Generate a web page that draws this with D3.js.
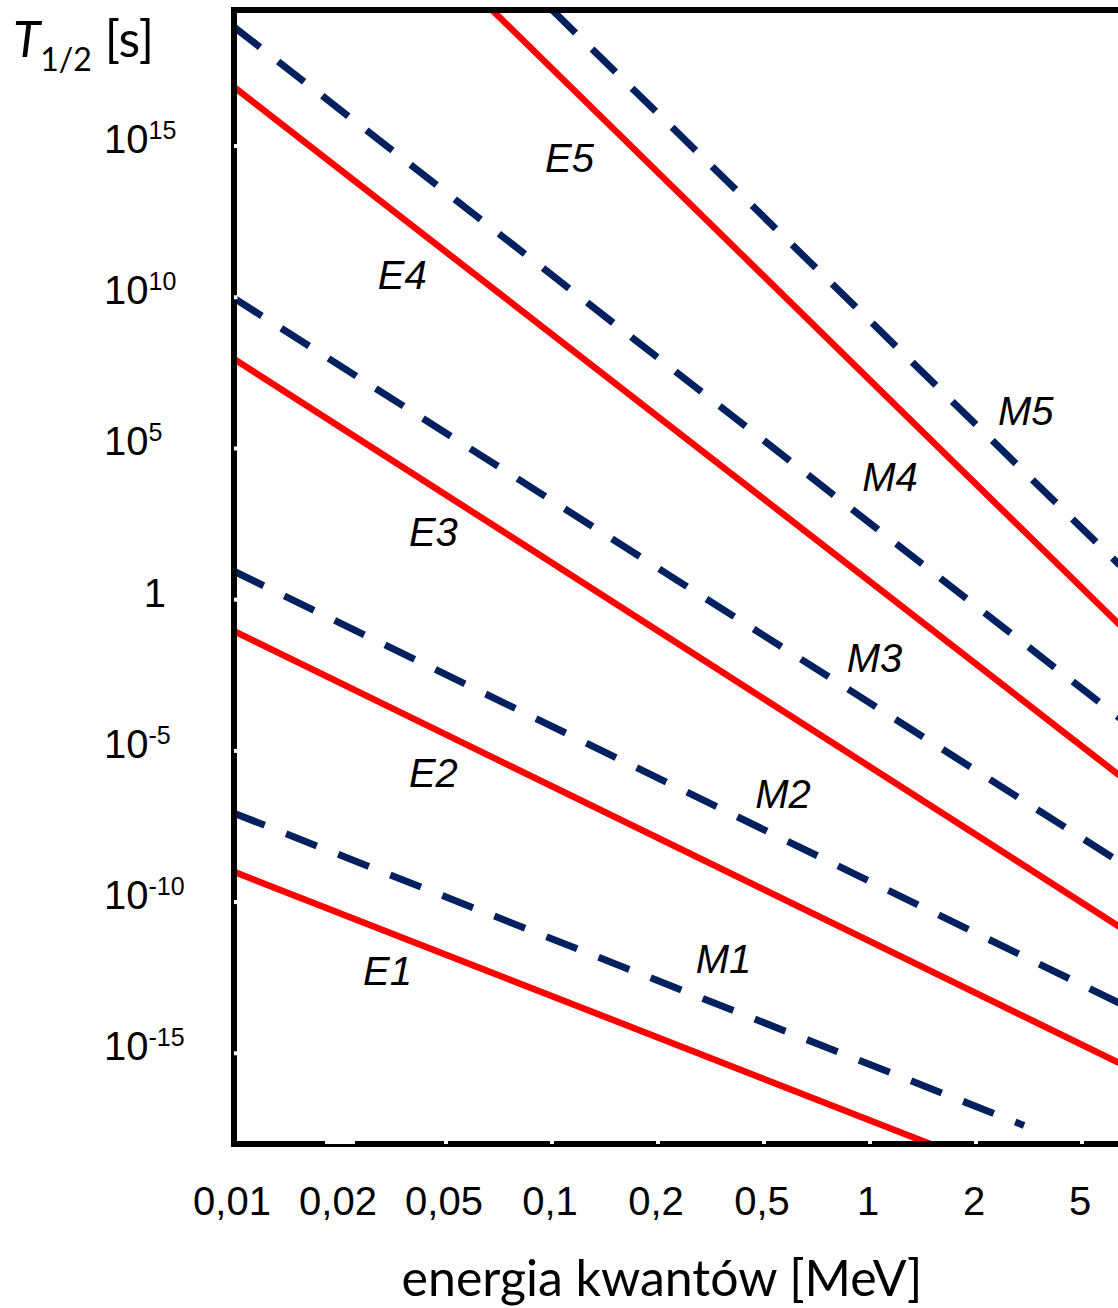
<!DOCTYPE html>
<html lang="pl">
<head>
<meta charset="utf-8" />
<title>Czas połowicznego zaniku a energia kwantów</title>
<script src="https://cdn.jsdelivr.net/npm/d3@7"></script>
<style>
  body { margin: 0; background: #fff; }
  .tick-lbl { font-family: "Liberation Sans", Arial, sans-serif; font-size: 40px; fill: #000; }
  .line-lbl { font-family: "Liberation Sans", Arial, sans-serif; font-size: 40px; font-style: italic; fill: #000; }
  .title { font-family: Lato, "Open Sans", sans-serif; fill: #000; }
</style>
</head>
<body>
<div id="chart"></div>
<script>

// x ticks (equal spacing per tick, as in the original)
var energyTicks = [0.01, 0.02, 0.05, 0.1, 0.2, 0.5, 1, 2, 5];
var energyLabels = ["0,01", "0,02", "0,05", "0,1", "0,2", "0,5", "1", "2", "5"];
var yExponents = [15, 10, 5, 0, -5, -10, -15];

// each line: [energy MeV, T1/2 s] at start and end
var E1 = [[0.01, 1.0e-9], [1.57, 1.0e-18]];
var M1 = [[0.01, 8.7e-8], [3.36, 4.1e-18]];
var E2 = [[0.01, 9.1e-2], [6.07, 4.7e-16]];
var M2 = [[0.01, 8.7], [6.07, 4.5e-14]];
var E3 = [[0.01, 9.1e7], [6.07, 1.5e-11]];
var M3 = [[0.01, 9.3e9], [6.07, 2.1e-9]];
var E4 = [[0.01, 8.9e16], [6.07, 1.5e-6]];
var M4 = [[0.01, 8.7e18], [6.07, 1.2e-4]];
var E5 = [[0.0717, 3.2e19], [6.07, 0.145]];
var M5 = [[0.1, 3.2e19], [6.07, 13.8]];

var lineNames = ["E1", "M1", "E2", "M2", "E3", "M3", "E4", "M4", "E5", "M5"];
var lineData = [E1, M1, E2, M2, E3, M3, E4, M4, E5, M5];

// label anchor points (energy, T)
var labelPos = [[0.0265, 1.8e-13], [0.307, 4.4e-13], [0.0395, 6.3e-7], [0.475, 1.3e-7],
                [0.0395, 59], [0.89, 4.0e-3], [0.0307, 1.9e10], [0.963, 3.9e3],
                [0.0967, 1.4e14], [2.62, 5.9e5]];

var W = 1118, H = 1308;
var margin = {left: 234, right: 1122, top: 10, bottom: 1144};
var step = 106;

var svg = d3.select("#chart").append("svg")
    .attr("width", W)
    .attr("height", H);

// polylinear scale: ticks equally spaced
var x = d3.scaleLinear()
    .domain(energyTicks)
    .range(energyTicks.map(function(d, i) { return margin.left + i * step; }));

var y = d3.scaleLog()
    .domain([1e-18, 3.16e19])
    .range([margin.bottom, margin.top]);

svg.append("clipPath").attr("id", "plot")
  .append("rect")
    .attr("x", margin.left).attr("y", margin.top)
    .attr("width", margin.right - margin.left).attr("height", margin.bottom - margin.top);

var line = d3.line()
    .x(function(d) { return x(d[0]); })
    .y(function(d) { return y(d[1]); });

svg.append("g")
    .attr("clip-path", "url(#plot)")
  .selectAll("path")
  .data(lineData)
  .enter()
  .append("path")
    .attr("d", line)
    .attr("fill", "none")
    .attr("stroke", function(d, i) { return lineNames[i][0] == "E" ? "#ff0000" : "#002060"; })
    .attr("stroke-width", function(d, i) { return lineNames[i][0] == "E" ? 6.5 : 7; })
    .attr("stroke-dasharray", function(d, i) { return lineNames[i][0] == "E" ? null : "33,23"; });

// frame
svg.append("path")
    .attr("d", "M" + margin.right + "," + margin.top + "H" + margin.left + "V" + margin.bottom + "H" + margin.right)
    .attr("fill", "none")
    .attr("stroke", "#000")
    .attr("stroke-width", 6);

// white tick marks on the inner side of the axes
svg.append("g")
  .selectAll("line")
  .data(yExponents)
  .enter()
  .append("line")
    .attr("x1", margin.left).attr("x2", margin.left + 3.5)
    .attr("y1", function(d) { return y(Math.pow(10, d)); })
    .attr("y2", function(d) { return y(Math.pow(10, d)); })
    .attr("stroke", "#fff")
    .attr("stroke-width", 4);

svg.append("g")
  .selectAll("line")
  .data(energyTicks.slice(1))
  .enter()
  .append("line")
    .attr("x1", function(d) { return x(d); })
    .attr("x2", function(d) { return x(d); })
    .attr("y1", margin.bottom).attr("y2", margin.bottom - 3.5)
    .attr("stroke", "#fff")
    .attr("stroke-width", function(d) { return d == 0.02 ? 30 : 4; });

// x tick labels
svg.append("g")
  .selectAll("text")
  .data(energyTicks)
  .enter()
  .append("text")
    .attr("class", "tick-lbl")
    .attr("x", function(d) { return x(d) - 2; })
    .attr("y", 1215)
    .attr("text-anchor", "middle")
    .text(function(d, i) { return energyLabels[i]; });

// y tick labels 10^n
var ylab = svg.append("g")
  .selectAll("text")
  .data(yExponents)
  .enter()
  .append("text")
    .attr("class", "tick-lbl")
    .attr("x", function(d) { return d == 0 ? 166 : 104; })
    .attr("y", function(d) { return y(Math.pow(10, d)) + 7; })
    .attr("text-anchor", function(d) { return d == 0 ? "end" : "start"; });

ylab.append("tspan")
    .text(function(d) { return d == 0 ? "1" : "10"; });
ylab.filter(function(d) { return d != 0; })
  .append("tspan")
    .attr("dy", -14)
    .attr("font-size", "25px")
    .text(function(d) { return String(d); });

// line labels
svg.append("g")
  .selectAll("text")
  .data(labelPos)
  .enter()
  .append("text")
    .attr("class", "line-lbl")
    .attr("x", function(d) { return x(d[0]); })
    .attr("y", function(d) { return y(d[1]); })
    .text(function(d, i) { return lineNames[i]; });

// axis titles
var yt = svg.append("text")
    .attr("class", "title")
    .attr("x", 13)
    .attr("y", 57)
    .attr("font-size", "50px");
yt.append("tspan").attr("font-style", "italic").text("T");
yt.append("tspan").attr("dy", 14).attr("font-size", "32px").text("1/2");
yt.append("tspan").attr("dy", -14).text(" [s]");

svg.append("text")
    .attr("class", "title")
    .attr("x", 662)
    .attr("y", 1296)
    .attr("text-anchor", "middle")
    .attr("font-size", "50px")
    .text("energia kwantów [MeV]");

</script>
</body>
</html>
